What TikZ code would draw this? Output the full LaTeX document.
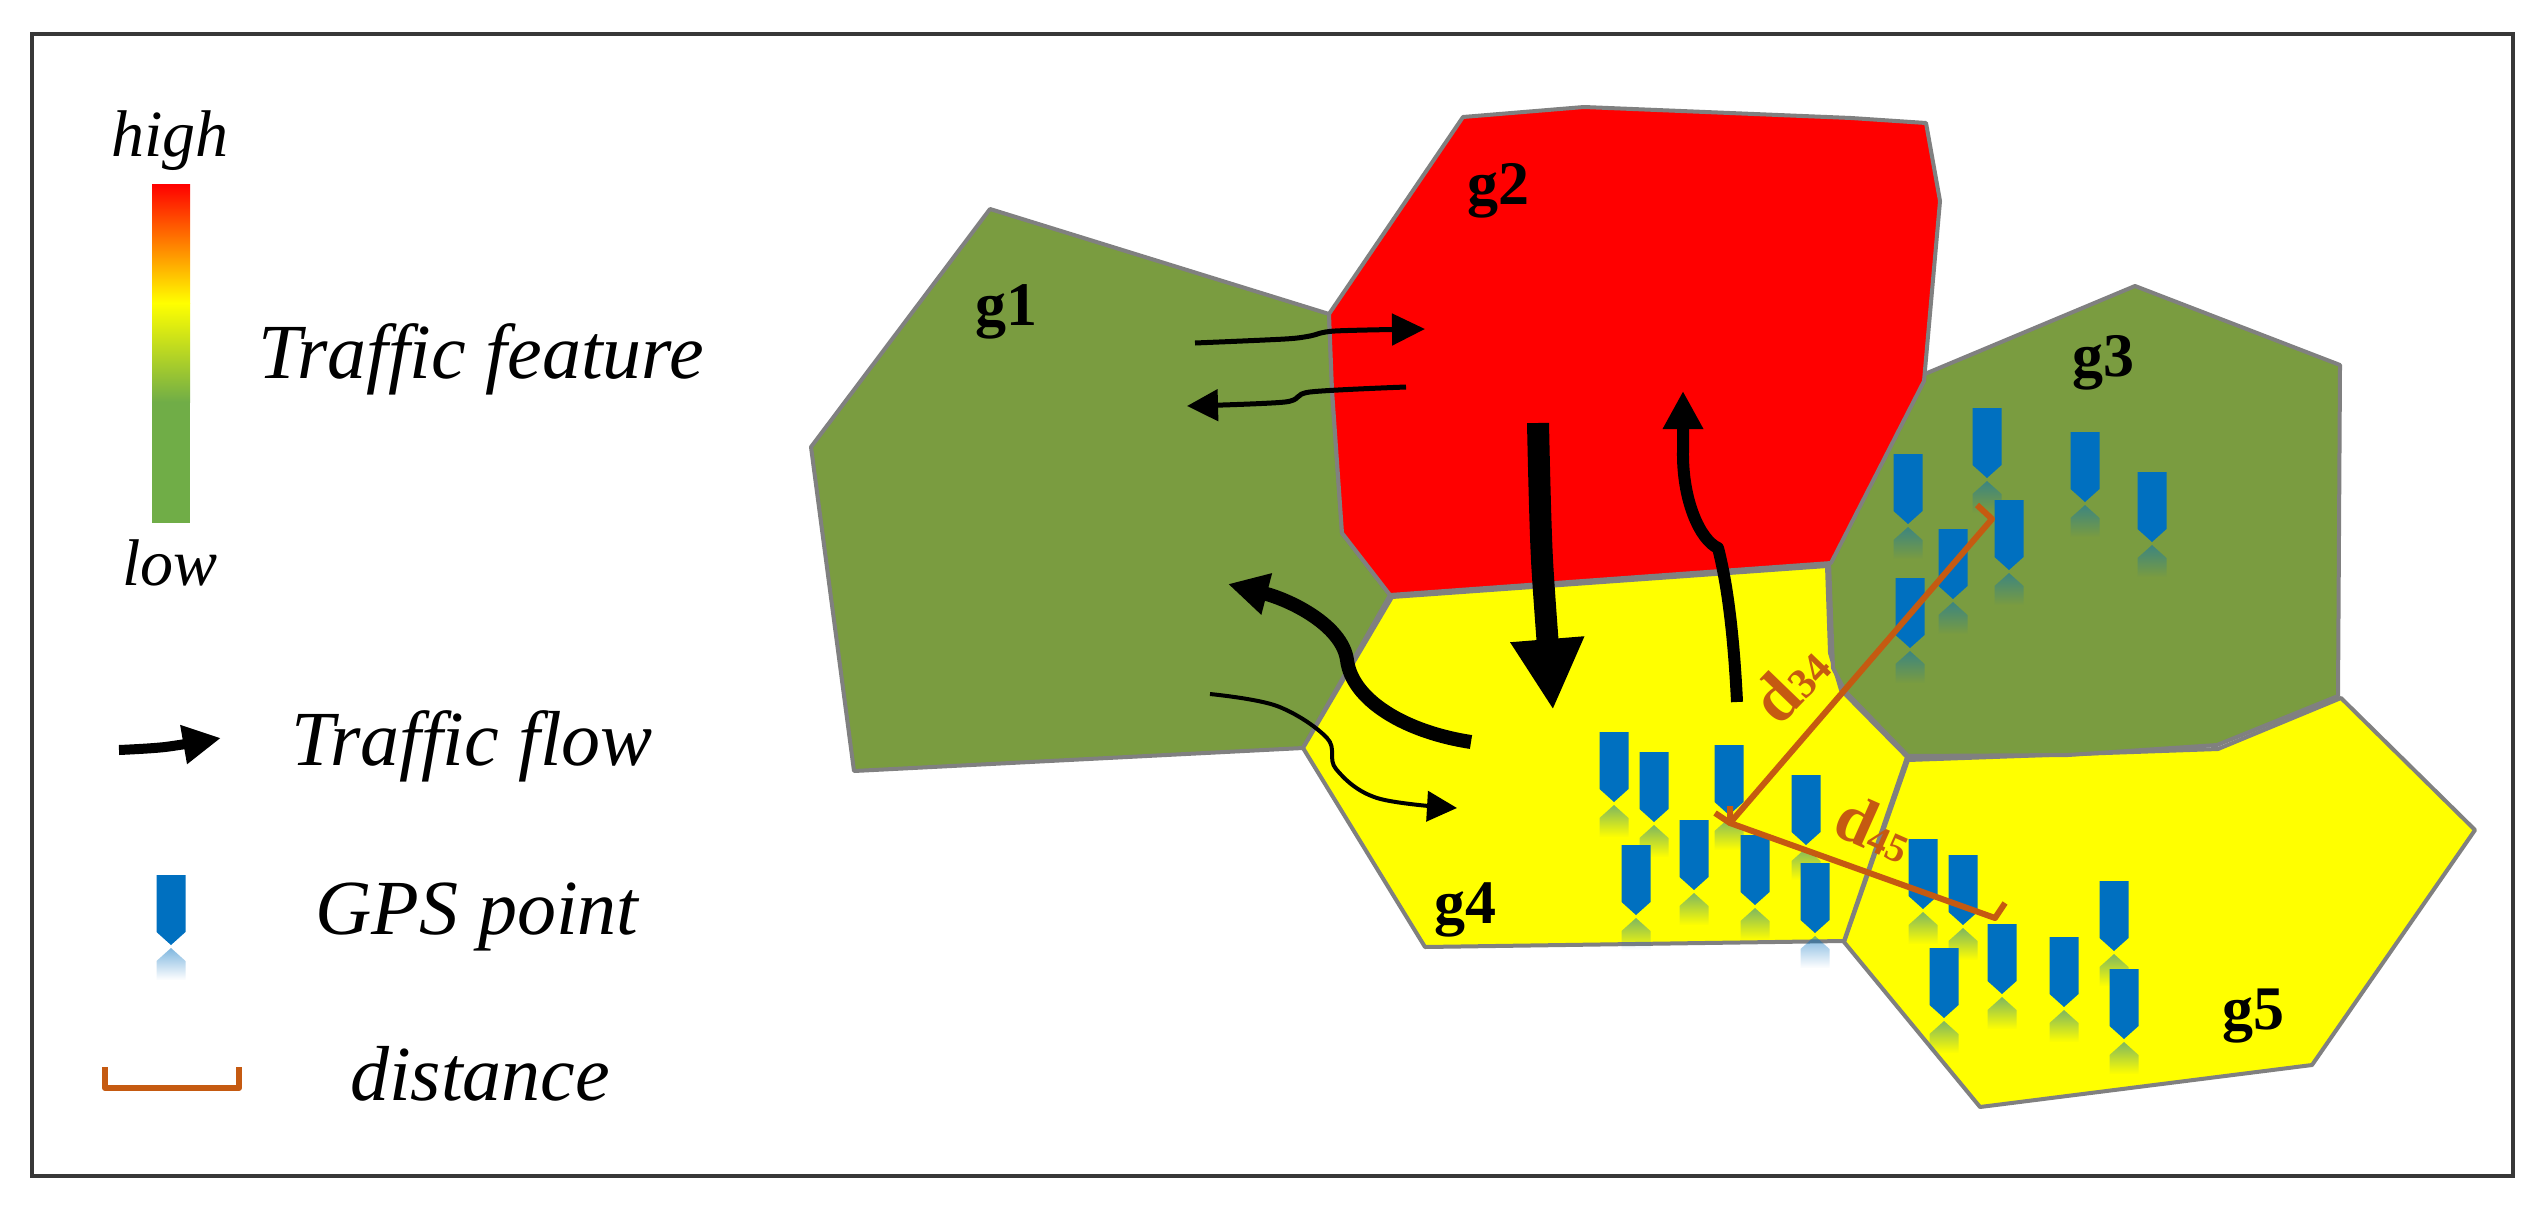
\documentclass[tikz,border=0pt]{standalone}
\usepackage{fontspec}
\setmainfont{Liberation Serif}
\usetikzlibrary{arrows.meta,fadings}
\definecolor{regiongreen}{HTML}{7A9C40}
\definecolor{regionedge}{HTML}{808080}
\definecolor{framegray}{HTML}{383838}
\definecolor{pinblue}{HTML}{0070C0}
\definecolor{distorange}{HTML}{C55A11}
\definecolor{barr}{HTML}{FF0000}
\definecolor{bary}{HTML}{FFFF00}
\definecolor{barg}{HTML}{70AD47}
\newcommand{\fs}[1]{\fontsize{#1}{#1}\selectfont}
\tikzset{
  region/.style={draw=regionedge,line width=4pt,line join=round},
  legendtxt/.style={anchor=base,inner sep=0pt,font=\fs{78}\itshape},
  smalltxt/.style={anchor=base,inner sep=0pt,font=\fs{66}\itshape},
  gridlabel/.style={anchor=base,inner sep=0pt,font=\fs{62}\bfseries},
  disttxt/.style={inner sep=0pt,text=distorange,font=\bfseries},
  distline/.style={draw=distorange,line width=6pt,line join=round},
  flow/.style={draw=black,line join=round},
  gpspin/.pic={
    \fill[pinblue,opacity=.5,path fading=south]
      (0,73) -- (14.5,86) -- (14.5,105) -- (-14.5,105) -- (-14.5,86) -- cycle;
    \fill[pinblue] (-14.5,0) -- (14.5,0) -- (14.5,57) -- (0,70) -- (-14.5,57) -- cycle;
  }
}
\begin{document}
\begin{tikzpicture}[x=1pt,y=-1pt]
\useasboundingbox (0,0) rectangle (2545,1207);
\fill[white] (0,0) rectangle (2545,1207);
\draw[framegray,line width=4pt] (32,34) rectangle (2513,1176);

% regions
\draw[region,fill=bary] (1908,760) -- (2218,749) -- (2341,698) -- (2475,830) -- (2312,1065) -- (1980,1107) -- (1844,942) -- cycle;
\draw[region,fill=regiongreen] (990,209) -- (1329,314) -- (1332,390) -- (1342,533) -- (1390,595) -- (1303,748) -- (854,771) -- (811,447) -- cycle;
\draw[region,fill=bary] (1392,597) -- (1827,566) -- (1830,653) -- (1841,690) -- (1907,757) -- (1844,941) -- (1425,947) -- (1303,748) -- cycle;
\draw[region,fill=regiongreen] (2135,286) -- (2340,365) -- (2338,696) -- (2217,745) -- (2068,755) -- (1908,756) -- (1845,691) -- (1833,668) -- (1829,562) -- (1920,376) -- cycle;
\draw[region,fill=barr] (1463,117) -- (1584,107) -- (1851,118) -- (1926,123) -- (1940,201) -- (1924,381) -- (1831,563) -- (1390,595) -- (1342,533) -- (1332,390) -- (1329,314) -- cycle;

% region labels
\node[gridlabel] (g1) at (1006,325) {g1};
\node[gridlabel] (g2) at (1498,204) {g2};
\node[gridlabel] (g3) at (2103,376) {g3};
\node[gridlabel] (g4) at (1465,923) {g4};
\node[gridlabel] (g5) at (2253,1029) {g5};

% GPS points
\foreach \px/\py in {1908/454,1987/408,2085/432,2152/472,2009/500,1953/529,1910/578,
  1614/732,1654/752,1729/745,1806/775,1636/845,1694/820,1755/835,1815/863,
  1923/839,1963/855,2002/924,1944/948,2064/937,2114/881,2124/969}
  \pic at (\px,\py) {gpspin};

% flows
\coordinate (a1) at (1195,343); \coordinate (a2) at (1285,339); \coordinate (a3) at (1310,336); \coordinate (a4) at (1335,331); \coordinate (a5) at (1425,329);
\draw[flow,line width=5pt,-{Triangle[length=33pt,width=31pt]}] plot[smooth,tension=.5] coordinates {(a1) (a2) (a3) (a4) (a5)};
\coordinate (b1) at (1406,387); \coordinate (b2) at (1310,392); \coordinate (b3) at (1285,402); \coordinate (b4) at (1187,406);
\draw[flow,line width=5pt,-{Triangle[length=31pt,width=31pt]}] plot[smooth,tension=.5] coordinates {(b1) (b2) (b3) (b4)};
\coordinate (c1) at (1538,423); \coordinate (c2) at (1542,560); \coordinate (c3) at (1553,710);
\draw[flow,line width=22pt,-{Triangle[length=71pt,width=69pt]}] plot[smooth,tension=.5] coordinates {(c1) (c2) (c3)};
\coordinate (d1) at (1737,702); \coordinate (d1c) at (1733,620); \coordinate (d2) at (1725,575); \coordinate (d2c) at (1718,548); \coordinate (d3) at (1700,540); \coordinate (d3c) at (1682,500); \coordinate (d4c) at (1683,450); \coordinate (d5) at (1683,391);
\draw[flow,line width=12pt,-{Triangle[length=38pt,width=38pt]}] (d1) .. controls (d1c) and (d2) .. (d2c) .. controls (d3) and (d3c) .. (d4c) -- (d5);
\coordinate (e1) at (1471,742); \coordinate (e1c) at (1405,732); \coordinate (e2c) at (1352,700); \coordinate (e2) at (1347,660); \coordinate (e3c) at (1342,625); \coordinate (e4c) at (1290,600); \coordinate (e6) at (1228,584);
\draw[flow,line width=14pt,-{Triangle[length=40pt,width=40pt]}] (e1) .. controls (e1c) and (e2c) .. (e2) .. controls (e3c) and (e4c) .. (e6);
\coordinate (f1) at (1210,694); \coordinate (f2) at (1277,706); \coordinate (f3) at (1327,738); \coordinate (f4) at (1336,769); \coordinate (f5) at (1377,798); \coordinate (f6) at (1457,808);
\draw[flow,line width=4pt,-{Triangle[length=30pt,width=30pt]}] plot[smooth,tension=.6] coordinates {(f1) (f2) (f3) (f4) (f5) (f6)};

% distances
\coordinate (m) at (1730,823); \coordinate (m1) at (1715,813); \coordinate (m2) at (1730,806);
\coordinate (p34) at (1992,519); \coordinate (p34h) at (1977,505);
\coordinate (p45) at (1995,918); \coordinate (p45h) at (2005,903);
\draw[distline] (p34h) -- (p34) -- (m) -- (p45) -- (p45h);
\draw[distline] (m1) -- (m) -- (m2);
\node[disttxt,rotate=46] (d34) at (1790,683) {\fs{68}d\fs{42}34};
\node[disttxt,rotate=-24] (d45) at (1875,828) {\fs{68}d\fs{40}45};

% legend
\shade[top color=barr,bottom color=bary] (152,184) rectangle (190,303);
\shade[top color=bary,bottom color=barg] (152,303) rectangle (190,402);
\fill[barg] (152,402) rectangle (190,523);
\node[smalltxt] (high) at (170,156) {high};
\node[smalltxt] (low) at (170,585) {low};
\node[legendtxt] (tf) at (481,378) {Traffic feature};
\node[legendtxt] (fl) at (472,765) {Traffic flow};
\node[legendtxt] (gp) at (477,934) {GPS point};
\node[legendtxt] (di) at (480,1100) {distance};
\coordinate (l1) at (119,750); \coordinate (l2) at (165,747); \coordinate (l3) at (221,738);
\draw[flow,line width=10pt,-{Triangle[length=38pt,width=37pt]}] plot[smooth,tension=.5] coordinates {(l1) (l2) (l3)};
\pic at (171,875) {gpspin};
\coordinate (q1) at (105,1067); \coordinate (q2) at (105,1088); \coordinate (q3) at (239,1088); \coordinate (q4) at (239,1067);
\draw[distline] (q1) -- (q2) -- (q3) -- (q4);
\end{tikzpicture}
\end{document}
